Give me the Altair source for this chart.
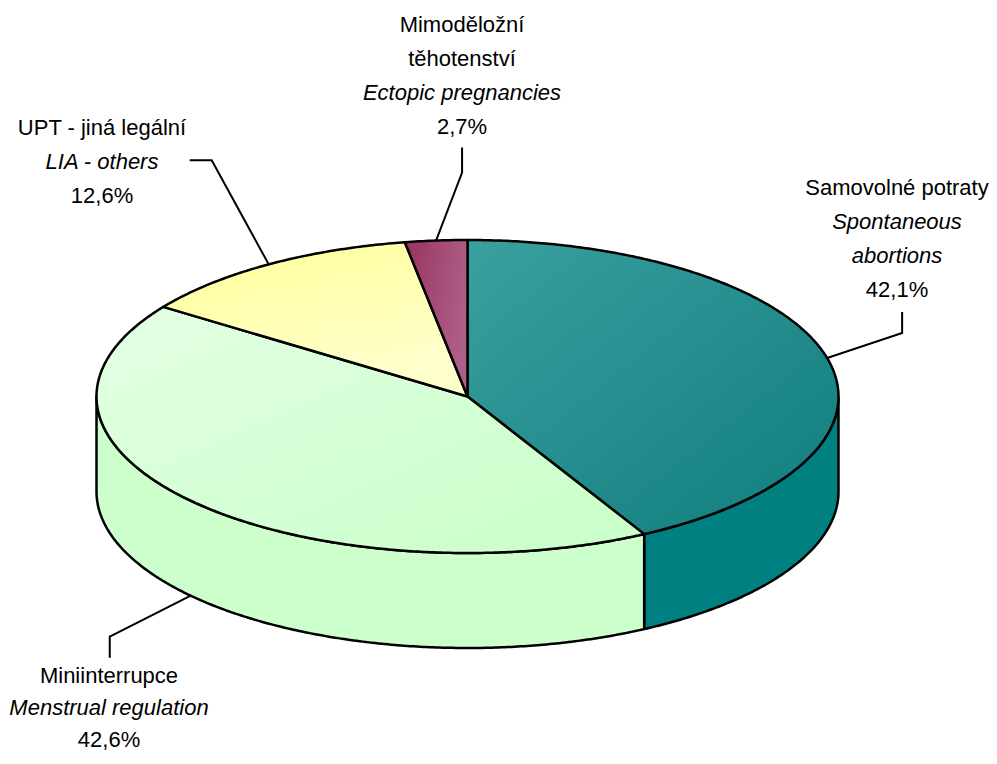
import numpy as np
import pandas as pd
import altair as alt

# ---------------- data ----------------
categories = ["Samovolné potraty", "Miniinterrupce", "UPT - jiná legální", "Mimoděložní těhotenství"]
label_cz = [["Samovolné potraty"], ["Miniinterrupce"], ["UPT - jiná legální"], ["Mimoděložní", "těhotenství"]]
label_en = [["Spontaneous", "abortions"], ["Menstrual regulation"], ["LIA - others"], ["Ectopic pregnancies"]]
shares = [42.1, 42.6, 12.6, 2.7]
share_labels = ["42,1%", "42,6%", "12,6%", "2,7%"]

# ---------------- layout / style ----------------
CX, CY, RX, RY, DEPTH = 467.5, 396.5, 371.0, 156.5, 95.0
X_DOM = [8, 989]
Y_DOM = [8, 756]
FONT = "Liberation Sans, Arial, sans-serif"
FONT_SIZE = 22

top_fill = [
    alt.Gradient(gradient="linear", x1=0, y1=0, x2=1, y2=1,
                 stops=[alt.GradientStop(color="#3a9f9f", offset=0),
                        alt.GradientStop(color="#107d7d", offset=1)]),
    alt.Gradient(gradient="linear", x1=0, y1=0, x2=1, y2=1,
                 stops=[alt.GradientStop(color="#e4ffe4", offset=0),
                        alt.GradientStop(color="#c8ffc8", offset=1)]),
    alt.Gradient(gradient="linear", x1=0, y1=0, x2=0.4, y2=1,
                 stops=[alt.GradientStop(color="#ffff99", offset=0),
                        alt.GradientStop(color="#ffffcc", offset=1)]),
    alt.Gradient(gradient="linear", x1=0, y1=0, x2=1, y2=0.3,
                 stops=[alt.GradientStop(color="#98335f", offset=0),
                        alt.GradientStop(color="#ae5f87", offset=1)]),
]
side_fill = ["#008080", "#ccffcc", "#ffffa0", "#8a2f5a"]

# leader-line elbow offsets (relative to slice edge point), end offsets (relative to elbow),
# label text anchor (center x, first line y) and line gap
leader = [
    dict(elbow=(75, -25), end=(0, -21), text=(897, 188), gap=34),
    dict(elbow=(-81, 41), end=(0, 21), text=(109, 676), gap=32),
    dict(elbow=(-57, -104), end=(-22, 0), text=(102, 128), gap=34),
    dict(elbow=(26, -68), end=(0, -25), text=(462, 25), gap=34),
]


def pt(t_deg, dy=0.0):
    t = np.radians(t_deg)
    return CX + RX * np.sin(t), CY - RY * np.cos(t) + dy


# slice angles (clockwise from 12 o'clock)
cum = np.concatenate([[0], np.cumsum(shares)]) / np.sum(shares) * 360.0

top_rows, side_rows = [], []
for i, cat in enumerate(categories):
    t1, t2 = cum[i], cum[i + 1]
    ts = np.linspace(t1, t2, max(int((t2 - t1) * 2), 4))
    pts = [(CX, CY)] + [pt(t) for t in ts] + [(CX, CY)]
    for k, (x, y) in enumerate(pts):
        top_rows.append(dict(cat=cat, idx=i, o=k, x=x, y=y))
    a, b = max(t1, 90.0), min(t2, 270.0)
    if b > a:
        ts = np.linspace(a, b, max(int((b - a) * 2), 4))
        poly = [pt(t) for t in ts] + [pt(t, DEPTH) for t in ts[::-1]]
        poly.append(poly[0])
        for k, (x, y) in enumerate(poly):
            side_rows.append(dict(cat=cat, idx=i, o=k, x=x, y=y))

top_df = pd.DataFrame(top_rows)
side_df = pd.DataFrame(side_rows)

lead_rows, text_rows = [], []
for i, cat in enumerate(categories):
    mid = (cum[i] + cum[i + 1]) / 2
    dy = DEPTH if 90 < mid < 270 else 0.0
    sx, sy = pt(mid, dy)
    ex, ey = sx + leader[i]["elbow"][0], sy + leader[i]["elbow"][1]
    fx, fy = ex + leader[i]["end"][0], ey + leader[i]["end"][1]
    for k, (x, y) in enumerate([(sx, sy), (ex, ey), (fx, fy)]):
        lead_rows.append(dict(cat=cat, o=k, x=x, y=y))
    lines = [(s, False) for s in label_cz[i]] + [(s, True) for s in label_en[i]] + [(share_labels[i], False)]
    tx, ty = leader[i]["text"]
    for k, (s, it) in enumerate(lines):
        text_rows.append(dict(cat=cat, x=tx, y=ty + k * leader[i]["gap"], t=s, italic=it))

lead_df = pd.DataFrame(lead_rows)
text_df = pd.DataFrame(text_rows)

X = alt.X("x:Q", scale=alt.Scale(domain=X_DOM, nice=False, zero=False), axis=None)
Y = alt.Y("y:Q", scale=alt.Scale(domain=Y_DOM, nice=False, zero=False, reverse=True), axis=None)

layers = []
for i in sorted(side_df["idx"].unique()):
    d = side_df[side_df["idx"] == i]
    layers.append(alt.Chart(d).mark_line(fill=side_fill[i], stroke="black", strokeWidth=2.5,
                                         strokeJoin="round", interpolate="linear")
                  .encode(x=X, y=Y, order="o:Q"))
for i in range(len(categories)):
    d = top_df[top_df["idx"] == i]
    layers.append(alt.Chart(d).mark_line(fill=top_fill[i], stroke="black", strokeWidth=2.5,
                                         strokeJoin="round")
                  .encode(x=X, y=Y, order="o:Q"))

layers.append(alt.Chart(lead_df).mark_line(color="black", strokeWidth=2)
              .encode(x=X, y=Y, detail="cat:N", order="o:Q"))
layers.append(alt.Chart(text_df[~text_df["italic"]]).mark_text(font=FONT, fontSize=FONT_SIZE, color="black",
                                                             align="center", baseline="middle")
              .encode(x=X, y=Y, text="t:N"))
layers.append(alt.Chart(text_df[text_df["italic"]]).mark_text(font=FONT, fontSize=FONT_SIZE, color="black",
                                                            fontStyle="italic", align="center", baseline="middle")
              .encode(x=X, y=Y, text="t:N"))

chart = alt.layer(*layers).properties(
    width=981, height=748, padding=0, autosize=alt.AutoSizeParams(type="none")
).configure_view(strokeWidth=0)

chart.save("out.html", embed_options={"renderer": "svg", "actions": False})
